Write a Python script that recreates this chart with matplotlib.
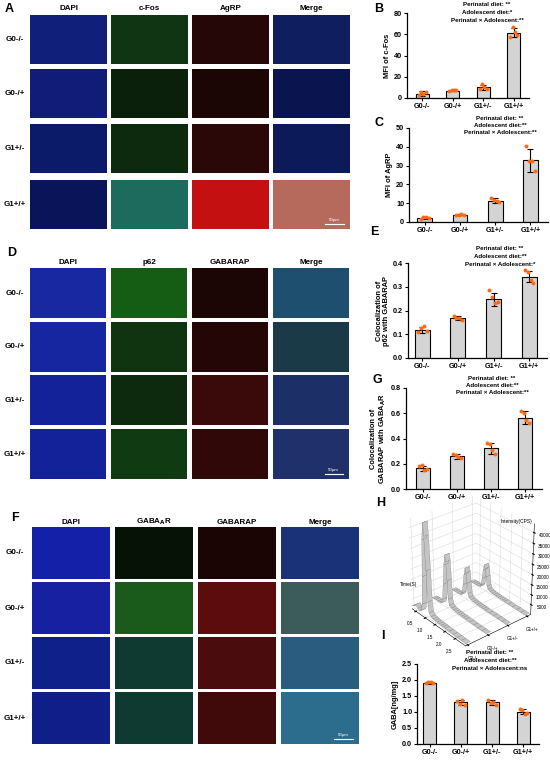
import matplotlib
matplotlib.use('Agg')
import matplotlib.pyplot as plt
import numpy as np


#################### Form ####################

plt.rcParams['font.family'] = ['Liberation Sans', 'DejaVu Sans']
plt.rcParams['font.weight'] = 'bold'
plt.rcParams['axes.labelweight'] = 'bold'

W, H = 550, 762
TIC = 5.2
LAB = 5.4
NOTE = 4.4
LET = 9

BARC = '#d4d4d4'
DOTC = '#ff6a0f'


#################### Data ####################

groups = ['G0-/-', 'G0-/+', 'G1+/-', 'G1+/+']

# B  MFI of c-Fos
cfos_mean = [4.2, 7.0, 10.0, 61.5]
cfos_sd = [2.0, 0.8, 2.4, 4.5]
cfos_pts = [[2.5, 5.8, 3.5, 5.2], [6.3, 7.4, 7.2, 7.8],
            [8.6, 12.8, 10.2, 8.9], [57.8, 66.5, 62.3, 59.4]]

# C  MFI of AgRP
agrp_mean = [2.3, 3.8, 11.3, 32.8]
agrp_sd = [0.6, 0.3, 1.3, 6.0]
agrp_pts = [[1.6, 2.6, 2.9, 2.2], [3.6, 3.9, 4.0, 3.8],
            [13.0, 11.5, 11.0, 10.9], [40.5, 32.5, 32.7, 27.0]]

# E  colocalization p62 / GABARAP
p62_mean = [0.118, 0.168, 0.247, 0.343]
p62_sd = [0.012, 0.007, 0.027, 0.022]
p62_pts = [[0.110, 0.125, 0.135, 0.112], [0.175, 0.168, 0.170, 0.162],
           [0.285, 0.255, 0.232, 0.235], [0.370, 0.362, 0.330, 0.315]]

# G  colocalization GABARAP / GABAAR
gab_mean = [0.165, 0.260, 0.322, 0.565]
gab_sd = [0.020, 0.020, 0.045, 0.050]
gab_pts = [[0.18, 0.19, 0.15, 0.16], [0.28, 0.27, 0.25, 0.245],
           [0.365, 0.36, 0.31, 0.28], [0.62, 0.60, 0.55, 0.52]]

# I  GABA content
gaba_mean = [1.92, 1.30, 1.30, 1.01]
gaba_sd = [0.03, 0.08, 0.08, 0.07]
gaba_pts = [[1.90, 1.93, 1.95, 1.92], [1.35, 1.25, 1.38, 1.22],
            [1.38, 1.28, 1.32, 1.22], [1.10, 1.05, 0.95, 0.98]]

# H  chromatograms (time in s, intensity in CPS)
h_time = [0.3, 0.4, 0.5, 0.6, 0.7, 0.8, 0.85, 0.9, 0.95, 1.0, 1.05, 1.1, 1.15, 1.2, 1.3,
          1.4, 1.5, 1.6, 1.7, 1.8, 1.9, 2.0, 2.2, 2.4, 2.6, 2.8, 3.0]
h_int = [
    [1500, 2200, 3500, 2200, 1800, 2500, 6000, 20000, 38000, 46000, 40000, 24000, 9000, 4000, 2600,
     2200, 2000, 1900, 1800, 1700, 1700, 1600, 1500, 1400, 1300, 1200, 1100],
    [1300, 1400, 1600, 1500, 1500, 1900, 4000, 12000, 22000, 27000, 24000, 15000, 6000, 3200, 2400,
     2100, 1900, 1800, 1700, 1600, 1600, 1500, 1400, 1300, 1200, 1200, 1100],
    [1200, 1300, 1400, 1400, 1400, 1700, 3000, 7500, 13000, 16500, 14500, 9500, 4500, 2800, 2200,
     1900, 1800, 1700, 1600, 1500, 1500, 1400, 1300, 1300, 1200, 1100, 1000],
    [1200, 1200, 1300, 1300, 1300, 1600, 2800, 6500, 11000, 14000, 12500, 8500, 4000, 2600, 2100,
     1800, 1700, 1600, 1500, 1500, 1400, 1400, 1300, 1200, 1200, 1100, 1000],
]
h_zticks = [5000, 10000, 15000, 20000, 25000, 30000, 35000, 40000]

# microscopy panel tints (rows x channels)
head_A = ['DAPI', 'c-Fos', 'AgRP', 'Merge']
tint_A = [['#10207a', '#0f3512', '#250707', '#0e1e5e'],
          ['#101c78', '#0a200a', '#1c0505', '#0a1550'],
          ['#0c1a6a', '#0d2a0f', '#2a0808', '#0c1a5a'],
          ['#0a1458', '#1d6b5c', '#c41010', '#b56a5c']]

head_D = ['DAPI', 'p62', 'GABARAP', 'Merge']
tint_D = [['#1828a0', '#155c15', '#1c0505', '#1f4f6f'],
          ['#1626a0', '#0f340f', '#240606', '#1a3a48'],
          ['#14229a', '#0e2a0e', '#3a0a0a', '#1c2f66'],
          ['#14229a', '#0f3a12', '#300808', '#20306a']]

head_F = ['DAPI', r'GABA$_\mathbf{A}$R', 'GABARAP', 'Merge']
tint_F = [['#1420a8', '#061206', '#1a0404', '#1a3278'],
          ['#1620a0', '#1a5a1a', '#5c0c0c', '#3c5c5c'],
          ['#10208a', '#0e3a32', '#4a0c0c', '#2a5c80'],
          ['#101e8a', '#0e3a32', '#400a0a', '#2c6c8c']]


#################### Tools ####################

def box(x0, y0, x1, y1):
    return [x0 / W, 1 - y1 / H, (x1 - x0) / W, (y1 - y0) / H]


def fx(x):
    return x / W


def fy(y):
    return 1 - y / H


def image_grid(fig, xs, ys, w, h, heads, tints, head_y):
    for j in range(len(xs)):
        fig.text(fx(xs[j] + w / 2), fy(head_y), heads[j], ha='center', va='center',
                 fontsize=5.8, fontweight='bold')
    for i in range(len(ys)):
        fig.text(fx(15), fy(ys[i] + h / 2), groups[i], ha='center', va='center',
                 fontsize=5.8, fontweight='bold')
        for j in range(len(xs)):
            ax = fig.add_axes(box(xs[j], ys[i], xs[j] + w, ys[i] + h))
            ax.set_facecolor(tints[i][j])
            ax.set_xticks([])
            ax.set_yticks([])
            for s in ax.spines.values():
                s.set_visible(False)
            last = ax
    # scale bar on the last merge picture
    last.plot([0.68, 0.92], [0.1, 0.1], color='white', lw=0.8, transform=last.transAxes)
    last.text(0.8, 0.14, '50μm', color='white', fontsize=3.2, ha='center', va='bottom',
              fontweight='normal', transform=last.transAxes)


def bar_panel(fig, rect, xl, mean, sd, pts, ylim, yticks, ylabel, notes, note_x, note_y, fmt):
    ax = fig.add_axes(rect)
    x = np.arange(len(groups))
    ax.bar(x, mean, width=0.42, color=BARC, edgecolor='black', linewidth=0.8, zorder=1)
    ax.errorbar(x, mean, yerr=sd, fmt='none', ecolor='black', elinewidth=0.8,
                capsize=2.2, capthick=0.8, zorder=3)
    for i in range(len(groups)):
        off = np.linspace(-0.12, 0.12, len(pts[i]))
        ax.scatter(x[i] + off, pts[i], s=8, color=DOTC, zorder=4, linewidths=0)
    ax.set_xlim(xl, 3.5)
    ax.set_ylim(ylim)
    ax.set_yticks(yticks)
    ax.set_yticklabels([fmt.format(v) for v in yticks])
    ax.set_xticks(x)
    ax.set_xticklabels(groups)
    ax.tick_params(labelsize=TIC, width=0.8, length=2, pad=1.5)
    for s in ['top', 'right']:
        ax.spines[s].set_visible(False)
    for s in ['left', 'bottom']:
        ax.spines[s].set_linewidth(0.9)
    ax.patch.set_alpha(0)
    ax.set_ylabel(ylabel, fontsize=LAB, labelpad=2, linespacing=1.1)
    for k in range(len(notes)):
        fig.text(fx(note_x), fy(note_y + 7.5 * k), notes[k], ha='center', va='center',
                 fontsize=NOTE, fontweight='bold')
    return ax


#################### Main ####################

fig = plt.figure(figsize=(W / 100, H / 100), dpi=100)

# H  (drawn first so that the bar panels sit on top of it)
ax3 = fig.add_axes(box(388, 492, 550, 648), projection='3d')
ax3.set_zorder(-1)
ax3.patch.set_alpha(0)
for k in range(len(groups)):
    T = np.array([h_time, h_time])
    Y = np.array([[k] * len(h_time), [k + 0.22] * len(h_time)])
    Z = np.array([h_int[k], h_int[k]])
    ax3.plot_surface(T, Y, Z, color='#c4c4c4', edgecolor='#555555', linewidth=0.15,
                     shade=False, rstride=1, cstride=1)
ax3.set_xlim(0.3, 3.0)
ax3.set_ylim(0, 3.3)
ax3.set_zlim(0, 44000)
ax3.set_xticks([0.5, 1.0, 1.5, 2.0, 2.5])
ax3.set_yticks(np.arange(len(groups)) + 0.1)
ax3.set_yticklabels(groups)
ax3.set_zticks(h_zticks)
ax3.tick_params(labelsize=3.3, pad=-3)
for lab in ax3.get_xticklabels() + ax3.get_yticklabels() + ax3.get_zticklabels():
    lab.set_fontweight('normal')
ax3.view_init(elev=30, azim=-40)
ax3.set_box_aspect((1.0, 1.0, 1.2), zoom=1.0)
for a in [ax3.xaxis, ax3.yaxis, ax3.zaxis]:
    a.set_pane_color((1, 1, 1, 1))
    a._axinfo['grid']['color'] = '#d0d0d0'
    a._axinfo['grid']['linewidth'] = 0.3
    a.line.set_linewidth(0.4)
try:
    ax3.zaxis.set_ticks_position('upper')
except Exception:
    pass
ax3.text2D(0.06, 0.40, 'Time(S)', fontsize=3.5, fontweight='normal', transform=ax3.transAxes)
ax3.text2D(0.70, 0.80, 'Intensity(CPS)', fontsize=3.5, fontweight='normal', transform=ax3.transAxes)
fig.text(fx(381), fy(503), 'H', fontsize=LET, fontweight='bold', ha='center', va='center')

# A
image_grid(fig, [30, 111, 192, 273], [15, 69, 124, 180], 77, 49, head_A, tint_A, 9)
fig.text(fx(9), fy(9), 'A', fontsize=LET, fontweight='bold', ha='center', va='center')

# D
image_grid(fig, [30, 111, 192, 273], [268, 322, 375, 429], 76, 50, head_D, tint_D, 262)
fig.text(fx(12), fy(253), 'D', fontsize=LET, fontweight='bold', ha='center', va='center')

# F
image_grid(fig, [32, 115, 198, 281], [527, 582, 637, 692], 78, 52, head_F, tint_F, 522)
fig.text(fx(15), fy(518), 'F', fontsize=LET, fontweight='bold', ha='center', va='center')

# B
bar_panel(fig, box(407, 13, 529, 98), -0.5, cfos_mean, cfos_sd, cfos_pts, (0, 80),
          [0, 20, 40, 60, 80], 'MFI of c-Fos',
          ['Perinatal diet: **', 'Adolescent diet:*', 'Perinatal × Adolescent:**'], 487, 5, '{:.0f}')
fig.text(fx(379), fy(9), 'B', fontsize=LET, fontweight='bold', ha='center', va='center')

# C
bar_panel(fig, box(409, 128, 548, 222), -0.45, agrp_mean, agrp_sd, agrp_pts, (0, 50),
          [0, 10, 20, 30, 40, 50], 'MFI of AgRP',
          ['Perinatal diet: **', 'Adolescent diet:**', 'Perinatal × Adolescent:**'], 500, 118, '{:.0f}')
fig.text(fx(379), fy(123), 'C', fontsize=LET, fontweight='bold', ha='center', va='center')

# E
bar_panel(fig, box(408, 263, 547, 358), -0.4, p62_mean, p62_sd, p62_pts, (0, 0.4),
          [0.0, 0.1, 0.2, 0.3, 0.4], 'Colocalization of\np62 with GABARAP',
          ['Perinatal diet: **', 'Adolescent diet:**', 'Perinatal × Adolescent:*'], 500, 249, '{:.1f}')
fig.text(fx(374), fy(232), 'E', fontsize=LET, fontweight='bold', ha='center', va='center')

# G
bar_panel(fig, box(406, 388, 542, 489), -0.5, gab_mean, gab_sd, gab_pts, (0, 0.8),
          [0.0, 0.2, 0.4, 0.6, 0.8], 'Colocalization of\n' + r'GABARAP with GABA$_\mathbf{A}$R',
          ['Perinatal diet: **', 'Adolescent diet:**', 'Perinatal × Adolescent:**'], 492, 378, '{:.1f}')
fig.text(fx(377), fy(380), 'G', fontsize=LET, fontweight='bold', ha='center', va='center')

# I
bar_panel(fig, box(417, 664, 539, 744), -0.4, gaba_mean, gaba_sd, gaba_pts, (0, 2.5),
          [0.0, 0.5, 1.0, 1.5, 2.0, 2.5], 'GABA[ng/mg]',
          ['Perinatal diet: **', 'Adolescent diet:**', 'Perinatal × Adolescent:ns'], 490, 653, '{:.1f}')
fig.text(fx(383), fy(636), 'I', fontsize=LET, fontweight='bold', ha='center', va='center')

plt.savefig('out.png', dpi=100)
